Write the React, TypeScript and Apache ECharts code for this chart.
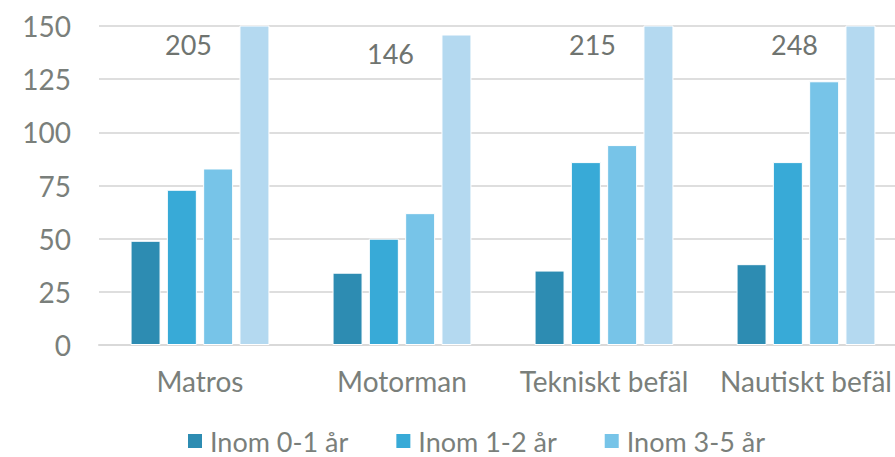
import React, { useEffect, useRef } from "react";
import * as echarts from "echarts";

const categories = ["Matros", "Motorman", "Tekniskt befäl", "Nautiskt befäl"];
const within01 = [49, 34, 35, 38];
const within12 = [73, 50, 86, 86];
const within35 = [83, 62, 94, 124];
const total = [205, 146, 215, 248];
const seriesNames = ["Inom 0-1 år", "Inom 1-2 år", "Inom 3-5 år", "Totalt"];
const yTicks = { min: 0, max: 150, interval: 25 };

const colors = ["#2d8cb2", "#38aad7", "#77c4e8", "#b4d9f0"];
const textColor = "#7a7f7b";
const font = "Lato, 'Open Sans', sans-serif";

export default function App() {
  const ref = useRef<HTMLDivElement>(null);
  useEffect(() => {
    if (!ref.current) return;
    const chart = echarts.init(ref.current, undefined, { renderer: "svg" });
    const values = [within01, within12, within35, total];
    chart.setOption({
      animation: false,
      textStyle: { fontFamily: font },
      grid: { left: 99, top: 26, width: 808, height: 319, containLabel: false },
      legend: {
        data: seriesNames.slice(0, 3),
        left: 186,
        top: 427,
        padding: 0,
        icon: "rect",
        itemWidth: 16,
        itemHeight: 16,
        itemGap: 46,
        textStyle: { fontSize: 27, lineHeight: 28, color: textColor, fontFamily: font, padding: [0, 0, 0, 2] },
      },
      xAxis: {
        type: "category",
        data: categories,
        axisLine: { lineStyle: { color: "#d9d9d9", width: 2 } },
        axisTick: { show: false },
        axisLabel: { interval: 0, fontSize: 28, color: textColor, margin: 22, fontFamily: font },
      },
      yAxis: {
        type: "value",
        min: yTicks.min,
        max: yTicks.max,
        interval: yTicks.interval,
        axisLine: { show: false },
        axisTick: { show: false },
        axisLabel: { fontSize: 28, color: textColor, margin: 28, fontFamily: font },
        splitLine: { lineStyle: { color: "#dedede", width: 2 } },
      },
      series: values.map((v, i) => ({
        type: "bar",
        name: seriesNames[i],
        data: v,
        barWidth: 30,
        barGap: "21%",
        itemStyle: { color: colors[i], borderColor: "#ffffff", borderWidth: 1 },
        label:
          i === 3
            ? {
                show: true,
                position: "insideTop",
                distance: 5,
                offset: [-66, 0],
                fontSize: 27,
                color: "#6f7470",
                fontFamily: font,
              }
            : { show: false },
      })),
    });
    return () => chart.dispose();
  }, []);
  return (
    <div style={{ position: "absolute", left: 0, top: 0, width: 895, height: 457, overflow: "hidden" }}>
      <div ref={ref} style={{ width: 920, height: 457 }} />
    </div>
  );
}
